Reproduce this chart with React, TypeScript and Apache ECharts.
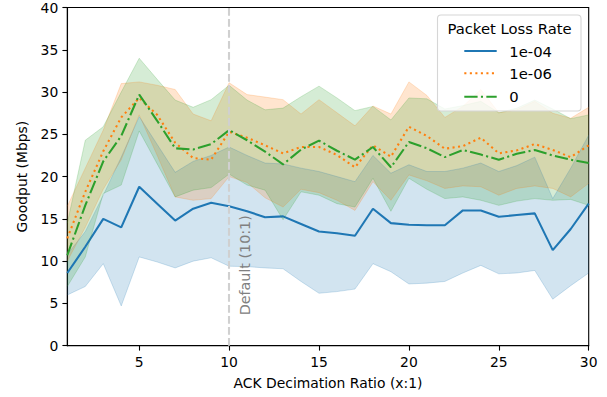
import React, { useEffect, useRef } from "react";
import * as echarts from "echarts";

const ratios = [1, 2, 3, 4, 5, 6, 7, 8, 9, 10, 11, 12, 13, 14, 15, 16, 17, 18, 19, 20, 21, 22, 23, 24, 25, 26, 27, 28, 29, 30];
const xTicks = [5, 10, 15, 20, 25, 30];
const defaultRatio = 10;

const seriesNames = ["1e-04", "1e-06", "0"];

const blueMean = [8.6, 11.7, 15.0, 14.0, 18.8, 16.8, 14.8, 16.2, 16.9, 16.5, 15.9, 15.2, 15.3, 14.4, 13.5, 13.3, 13.0, 16.2, 14.5, 14.3, 14.25, 14.25, 16.0, 16.0, 15.25, 15.45, 15.65, 11.3, 13.8, 16.8];
const blueLow = [6.0, 7.0, 9.7, 4.7, 10.5, 9.9, 9.2, 10.0, 10.4, 9.4, 9.35, 9.2, 9.1, 7.6, 6.2, 6.4, 6.7, 9.7, 8.75, 7.3, 7.4, 7.6, 8.6, 9.5, 8.5, 8.6, 8.9, 5.5, 7.1, 8.6];
const blueHigh = [10.8, 13.5, 17.8, 22.3, 27.1, 23.8, 20.5, 21.8, 22.5, 23.5, 22.5, 21.6, 21.5, 21.0, 20.6, 20.0, 19.4, 22.5, 20.4, 21.4, 20.6, 20.6, 21.0, 21.6, 20.6, 21.3, 22.3, 17.4, 21.0, 24.9];

const orangeMean = [12.7, 18.2, 23.0, 27.0, 29.3, 27.3, 24.0, 22.2, 22.0, 25.3, 24.6, 23.7, 22.75, 23.5, 23.5, 22.55, 21.1, 23.7, 22.35, 25.9, 24.8, 23.3, 23.6, 24.6, 22.75, 23.1, 23.85, 23.15, 22.3, 23.7];
const orangeLow = [10.0, 14.0, 18.5, 22.0, 27.3, 22.5, 17.6, 17.2, 17.4, 20.0, 19.3, 17.5, 16.4, 18.5, 18.1, 17.2, 16.0, 19.4, 17.2, 20.2, 19.5, 18.6, 18.9, 18.8, 17.8, 18.6, 18.9, 18.6, 17.6, 19.2];
const orangeHigh = [16.5, 21.0, 25.5, 31.0, 31.2, 30.8, 30.3, 27.4, 26.6, 31.1, 29.7, 29.4, 29.1, 27.4, 29.1, 27.55, 26.0, 28.35, 27.4, 31.2, 29.6, 27.0, 28.3, 30.3, 27.55, 27.9, 28.9, 27.5, 26.9, 28.2];

const greenMean = [10.7, 16.6, 21.8, 24.8, 29.7, 26.6, 23.35, 23.2, 23.85, 25.5, 24.3, 22.95, 21.45, 23.2, 24.25, 23.06, 22.0, 23.5, 21.1, 24.1, 23.35, 22.3, 23.15, 22.6, 22.0, 22.7, 23.15, 22.5, 22.0, 21.6];
const greenLow = [7.0, 10.5, 18.0, 19.0, 25.4, 21.5, 17.6, 18.4, 18.7, 20.3, 19.0, 18.4, 14.9, 18.2, 17.8, 16.8, 16.4, 19.8, 15.9, 19.8, 18.5, 17.4, 17.6, 17.2, 16.6, 17.1, 17.4, 17.2, 17.3, 16.6];
const greenHigh = [14.5, 24.3, 25.9, 30.0, 34.0, 31.5, 29.05, 28.2, 29.1, 30.8, 29.05, 27.9, 28.1, 29.45, 30.7, 29.3, 27.8, 28.3, 26.7, 29.3, 29.2, 28.0, 28.4, 28.9, 27.55, 28.1, 29.05, 28.0, 26.85, 27.3];

const FONT = "DejaVu Sans";
const BLUE = "#1f77b4";
const ORANGE = "#ff7f0e";
const GREEN = "#2ca02c";
const LW = 2.08;
const DOTTED = [2.08, 3.44];
const DASHDOT = [13.3, 3.33, 2.08, 3.33];

function meanSeries(name: string, data: number[], color: string, type: any) {
  return {
    type: "line",
    name,
    data,
    symbol: "none",
    silent: true,
    lineStyle: { color, width: LW, type, cap: "butt" },
  };
}

function bandSeries(name: string, low: number[], high: number[], color: string) {
  const diff = high.map((h, i) => +(h - low[i]).toFixed(3));
  return [
    {
      type: "line",
      name: name + " low",
      stack: name,
      data: low,
      symbol: "none",
      silent: true,
      lineStyle: { color, width: 1, opacity: 0.2 },
    },
    {
      type: "line",
      name: name + " band",
      stack: name,
      data: diff,
      symbol: "none",
      silent: true,
      lineStyle: { color, width: 1, opacity: 0.2 },
      areaStyle: { color, opacity: 0.2 },
    },
  ];
}

export default function App() {
  const ref = useRef<HTMLDivElement>(null);
  useEffect(() => {
    const el = ref.current!;
    const chart = echarts.init(el, null, { renderer: "svg" });
    const cats = ratios.map(String);
    const tickSet = new Set(xTicks.map(String));
    const option: any = {
      animation: false,
      textStyle: { fontFamily: FONT },
      grid: {
        left: 67.3,
        right: 18.3,
        top: 7.5,
        bottom: 51.3,
        show: true,
        borderColor: "#000",
        borderWidth: 1.1,
        backgroundColor: "transparent",
      },
      xAxis: {
        type: "category",
        data: cats,
        boundaryGap: false,
        name: "ACK Decimation Ratio (x:1)",
        nameLocation: "middle",
        nameGap: 30,
        nameTextStyle: { color: "#000", fontSize: 13.9, fontFamily: FONT },
        axisLine: { show: true, lineStyle: { color: "#000", width: 1.1 } },
        axisTick: {
          show: true,
          length: 4.9,
          lineStyle: { color: "#000", width: 1.1 },
          interval: (i: number, v: string) => tickSet.has(v),
        },
        axisLabel: {
          color: "#000",
          fontSize: 13.9,
          fontFamily: FONT,
          margin: 9,
          interval: (i: number, v: string) => tickSet.has(v),
        },
        splitLine: { show: false },
      },
      yAxis: {
        type: "value",
        min: 0,
        max: 40,
        interval: 5,
        name: "Goodput (Mbps)",
        nameLocation: "middle",
        nameGap: 38,
        nameTextStyle: { color: "#000", fontSize: 13.9, fontFamily: FONT },
        axisLine: { show: true, lineStyle: { color: "#000", width: 1.1 } },
        axisTick: { show: true, length: 4.9, lineStyle: { color: "#000", width: 1.1 } },
        axisLabel: { color: "#000", fontSize: 13.9, fontFamily: FONT, margin: 9 },
        splitLine: { show: false },
      },
      series: [
        meanSeries(seriesNames[0], blueMean, BLUE, "solid"),
        ...bandSeries(seriesNames[0], blueLow, blueHigh, BLUE),
        meanSeries(seriesNames[1], orangeMean, ORANGE, DOTTED),
        ...bandSeries(seriesNames[1], orangeLow, orangeHigh, ORANGE),
        meanSeries(seriesNames[2], greenMean, GREEN, DASHDOT),
        ...bandSeries(seriesNames[2], greenLow, greenHigh, GREEN),
        {
          type: "line",
          name: "default",
          data: [],
          silent: true,
          z: 5,
          markLine: {
            silent: true,
            symbol: ["none", "none"],
            label: { show: false },
            lineStyle: { color: "#d0d0d0", width: 2.08, type: [7.7, 3.3], cap: "butt" },
            data: [{ xAxis: String(defaultRatio) }],
          },
        },
      ],
    };
    chart.setOption(option);

    const p0 = chart.convertToPixel({ gridIndex: 0 }, [String(defaultRatio), 3.6]) as number[];
    const p1 = chart.convertToPixel({ gridIndex: 0 }, [String(defaultRatio + 1), 3.6]) as number[];
    const ax = p0[0] + (p1[0] - p0[0]) * 0.5;

    const legX = 437.5;
    const legY = 15;
    const rowY = [51, 73.3, 96.7];
    const styles = [
      { color: BLUE, dash: null },
      { color: ORANGE, dash: DOTTED },
      { color: GREEN, dash: DASHDOT },
    ];
    const legendEls: any[] = [
      {
        type: "rect",
        shape: { x: legX, y: legY, width: 143.5, height: 96, r: 3.5 },
        style: { fill: "rgba(255,255,255,0.8)", stroke: "#d6d6d6", lineWidth: 1.1 },
        z: 100,
      },
      {
        type: "text",
        x: 509.5,
        y: 28.5,
        style: {
          text: "Packet Loss Rate",
          fill: "#000",
          font: `14.8px ${FONT}`,
          align: "center",
          verticalAlign: "middle",
        },
        z: 101,
      },
    ];
    seriesNames.forEach((n, i) => {
      legendEls.push({
        type: "line",
        shape: { x1: 464.3, y1: rowY[i], x2: 496.7, y2: rowY[i] },
        style: {
          stroke: styles[i].color,
          lineWidth: LW,
          lineDash: styles[i].dash || undefined,
          lineCap: "butt",
        },
        z: 101,
      });
      legendEls.push({
        type: "text",
        x: 509.3,
        y: rowY[i],
        style: {
          text: n,
          fill: "#000",
          font: `14.8px ${FONT}`,
          align: "left",
          verticalAlign: "middle",
        },
        z: 101,
      });
    });

    chart.setOption({
      graphic: [
        {
          type: "text",
          x: ax,
          y: p0[1],
          rotation: Math.PI / 2,
          style: {
            text: "Default (10:1)",
            fill: "#808080",
            font: `14.3px ${FONT}`,
            align: "left",
            verticalAlign: "top",
          },
          z: 50,
        },
        ...legendEls,
      ],
    });

    return () => chart.dispose();
  }, []);
  return (
    <div
      ref={ref}
      style={{ position: "absolute", left: 0, top: 0, width: 607, height: 397 }}
    />
  );
}
